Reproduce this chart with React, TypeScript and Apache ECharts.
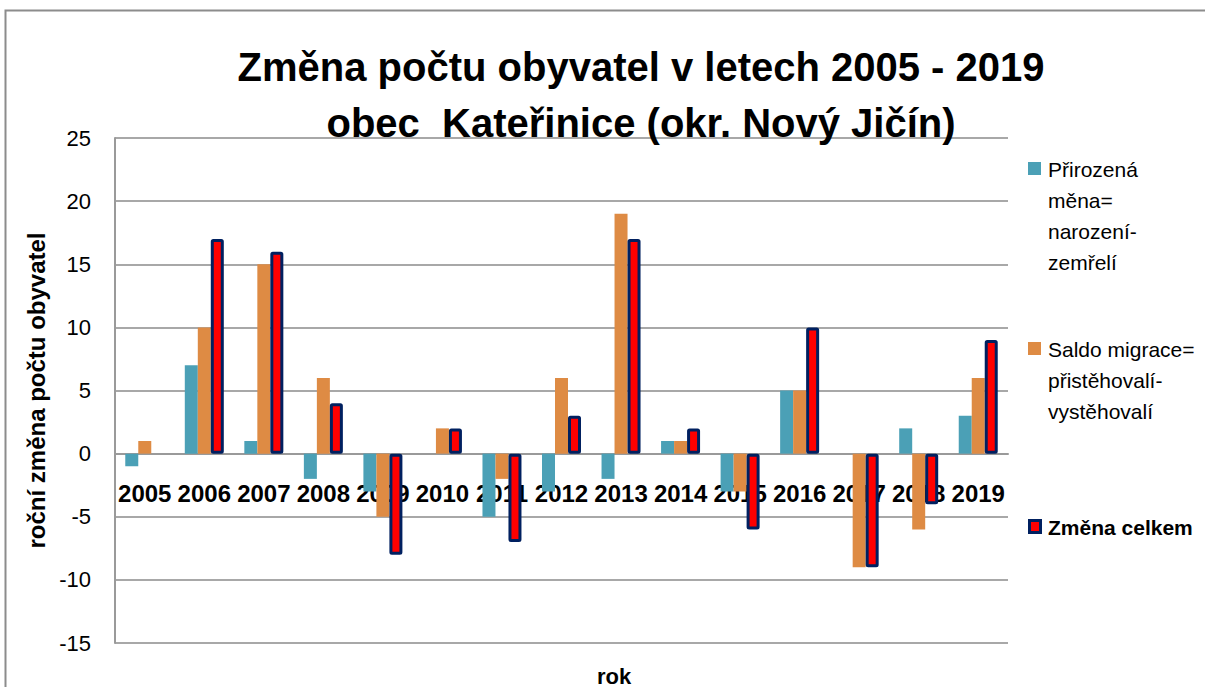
import React, { useEffect, useRef } from "react";
import * as echarts from "echarts";

const years = ["2005","2006","2007","2008","2009","2010","2011","2012","2013","2014","2015","2016","2017","2018","2019"];
const prirozena = [-1, 7, 1, -2, -3, 0, -5, -3, -2, 1, -3, 5, 0, 2, 3];
const saldo = [1, 10, 15, 6, -5, 2, -2, 6, 19, 1, -3, 5, -9, -6, 6];
const celkem = [0, 17, 16, 4, -8, 2, -7, 3, 17, 2, -6, 10, -9, -4, 9];
const seriesNames = ["Přirozená měna= narození-zemřelí", "Saldo migrace= přistěhovalí-vystěhovalí", "Změna celkem"];
const legendLines = [
  ["Přirozená", "měna=", "narození-", "zemřelí"],
  ["Saldo migrace=", "přistěhovalí-", "vystěhovalí"],
  ["Změna celkem"],
];
const titleLines = ["Změna počtu obyvatel v letech 2005 - 2019", "obec  Kateřinice (okr. Nový Jičín)"];
const yTitle = "roční změna počtu obyvatel";
const xTitle = "rok";
const yMin = -15;
const yMax = 25;
const yStep = 5;

const FONT = "'Liberation Sans', Arial, sans-serif";
const C_BLUE = "#4BA0B6";
const C_ORANGE = "#DE8B44";
const C_RED = "#FF0000";
const C_NAVY = "#002060";

const GRID_TOP = 138;
const GRID_BOTTOM = 44;
const H = 687;

export default function App() {
  const ref = useRef<HTMLDivElement>(null);
  useEffect(() => {
    if (!ref.current) return;
    const chart = echarts.init(ref.current, null, { renderer: "svg" });
    const plotH = H - GRID_TOP - GRID_BOTTOM;
    const zeroFromBottom = (plotH * (0 - yMin)) / (yMax - yMin);
    const legendTops = [169, 349, 527];
    const legendColors = [C_BLUE, C_ORANGE, C_RED];
    const graphics: any[] = [
      { type: "rect", shape: { x: 5.5, y: 10.5, width: 1300, height: 800 }, style: { fill: "none", stroke: "#8c8c8c", lineWidth: 2 }, silent: true },
      { type: "text", x: 614, y: 676, style: { text: xTitle, font: `bold 22px ${FONT}`, fill: "#000", align: "center", verticalAlign: "middle" } },
    ];
    legendLines.forEach((lines, i) => {
      const y0 = legendTops[i];
      graphics.push({
        type: "rect",
        shape: { x: i === 2 ? 1029.5 : 1028, y: y0 - (i === 2 ? 6.5 : 7), width: i === 2 ? 11 : 13, height: i === 2 ? 12 : 13 },
        style: { fill: legendColors[i], stroke: i === 2 ? C_NAVY : "none", lineWidth: i === 2 ? 3 : 0 },
      });
      graphics.push({
        type: "text",
        x: 1048,
        y: y0 - 15.5,
        style: {
          text: lines.join("\n"),
          font: `${i === 2 ? "bold " : ""}21px ${FONT}`,
          lineHeight: 31,
          fill: "#000",
          align: "left",
          verticalAlign: "top",
        },
      });
    });
    const celkemData = celkem.map((v) => (v === 0 ? { value: v, itemStyle: { borderWidth: 0 } } : v));
    chart.setOption({
      animation: false,
      backgroundColor: "#fff",
      title: {
        text: titleLines.join("\n"),
        left: 636,
        top: 34,
        textAlign: "center",
        textStyle: { fontFamily: FONT, fontWeight: "bold", fontSize: 40, lineHeight: 56, color: "#000" },
      },
      grid: { left: 115, right: 197, top: GRID_TOP, bottom: GRID_BOTTOM, containLabel: false },
      xAxis: {
        type: "category",
        data: years,
        position: "bottom",
        offset: -zeroFromBottom,
        axisLine: { onZero: false, lineStyle: { color: "#9a9a9a", width: 2 } },
        axisTick: { show: false },
        axisLabel: { color: "#000", fontFamily: FONT, fontWeight: "bold", fontSize: 24, margin: 28, interval: 0 },
      },
      yAxis: {
        type: "value",
        min: yMin,
        max: yMax,
        interval: yStep,
        name: yTitle,
        nameLocation: "middle",
        nameGap: 62,
        nameRotate: 90,
        nameTextStyle: { fontFamily: FONT, fontWeight: "bold", fontSize: 24, color: "#000" },
        axisLine: { show: true, lineStyle: { color: "#9a9a9a", width: 2 } },
        axisTick: { show: false },
        axisLabel: { color: "#000", fontFamily: FONT, fontSize: 22, margin: 24 },
        splitLine: { lineStyle: { color: "#a8a8a8", width: 2 } },
      },
      series: [
        { name: seriesNames[0], type: "bar", data: prirozena, barWidth: 13, barGap: "0%", itemStyle: { color: C_BLUE } },
        { name: seriesNames[1], type: "bar", data: saldo, barWidth: 13, barGap: "0%", itemStyle: { color: C_ORANGE } },
        { name: seriesNames[2], type: "bar", data: celkemData, barWidth: 13, barGap: "0%", itemStyle: { color: C_RED, borderColor: C_NAVY, borderWidth: 3, borderRadius: 1 } },
      ],
      graphic: graphics,
    });
    return () => chart.dispose();
  }, []);
  return <div ref={ref} style={{ position: "absolute", left: 0, top: 0, width: 1205, height: 687 }} />;
}
